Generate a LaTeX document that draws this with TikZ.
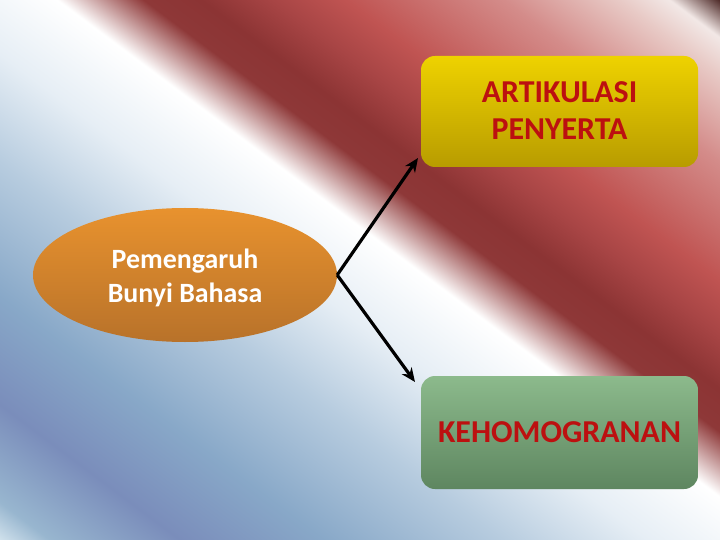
\documentclass[tikz,border=0pt]{standalone}
\usepackage{fontspec}
\setmainfont{Carlito}
\usetikzlibrary{shapes.geometric,arrows.meta}
\definecolor{c00}{HTML}{D0E1EC}
\definecolor{c01}{HTML}{98B6CF}
\definecolor{c02}{HTML}{7A8DBB}
\definecolor{c03}{HTML}{88A8C8}
\definecolor{c04}{HTML}{B7CCDF}
\definecolor{c05}{HTML}{E6EEF5}
\definecolor{c06}{HTML}{FFFFFF}
\definecolor{c07}{HTML}{8E3838}
\definecolor{c08}{HTML}{8C3434}
\definecolor{c085}{HTML}{A84545}
\definecolor{c09}{HTML}{C05452}
\definecolor{c10}{HTML}{D48C8A}
\definecolor{c11}{HTML}{E8CAC6}
\definecolor{c12}{HTML}{F2E8E6}
\definecolor{c13}{HTML}{4E2A28}
\definecolor{ellTop}{HTML}{E8922E}
\definecolor{ellBot}{HTML}{B8722A}
\definecolor{yelTop}{HTML}{EED200}
\definecolor{yelBot}{HTML}{B89C00}
\definecolor{grnTop}{HTML}{8CBA8C}
\definecolor{grnBot}{HTML}{5E8660}
\definecolor{labRed}{HTML}{BC1010}
\pgfdeclarehorizontalshading{bgshade}{100bp}{color(0bp)=(c00); color(25bp)=(c00); color(26.75bp)=(c01); color(31.25bp)=(c02); color(36.25bp)=(c03); color(42.5bp)=(c04); color(47.5bp)=(c05); color(52bp)=(c06); color(55bp)=(c07); color(57bp)=(c08); color(59.5bp)=(c085); color(62bp)=(c09); color(67.5bp)=(c10); color(71.5bp)=(c11); color(73.25bp)=(c12); color(75bp)=(c13); color(100bp)=(c13)}
\newcommand{\shiftdown}[2]{\raisebox{-#1}[\height][\depth]{#2}}
\tikzset{
  ellnode/.style={ellipse, minimum width=304bp, minimum height=134bp, inner sep=0pt,
    top color=ellTop, bottom color=ellBot, text=white,
    font=\bfseries\fontsize{28}{34}\selectfont},
  boxnode/.style={rectangle, rounded corners=14bp, minimum width=277bp, inner sep=0pt,
    text=labRed, font=\bfseries\fontsize{32}{38}\selectfont},
  yelbox/.style={boxnode, minimum height=111bp, top color=yelTop, bottom color=yelBot},
  grnbox/.style={boxnode, minimum height=113bp, top color=grnTop, bottom color=grnBot},
  conn/.style={line width=3.2bp, -{Stealth[length=14bp,width=12bp]}}
}
\begin{document}
\begin{tikzpicture}[x=1bp,y=-1bp]
\useasboundingbox (0,0) rectangle (720,540);
\begin{scope}
\clip (0,0) rectangle (720,540);
\begin{scope}[transform canvas={shift={(360,270)},rotate=53.1301}]
\shade[shading=bgshade] (-432,-520) rectangle (432,520);
\end{scope}
\end{scope}
\node[ellnode] (ell) at (185,275) {\shiftdown{4bp}{\begin{tabular}{@{}c@{}}Pemengaruh\\Bunyi Bahasa\end{tabular}}};
\node[yelbox] (top) at (559.5,111.5) {\shiftdown{2bp}{\begin{tabular}{@{}c@{}}ARTIKULASI\\PENYERTA\end{tabular}}};
\node[grnbox] (bot) at (559.5,432.5) {KEHOMOGRANAN};
\coordinate (tipA) at (418,158);
\coordinate (tipB) at (415,382);
\draw[conn] (ell.east) -- (tipA);
\draw[conn] (ell.east) -- (tipB);
\end{tikzpicture}
\end{document}
